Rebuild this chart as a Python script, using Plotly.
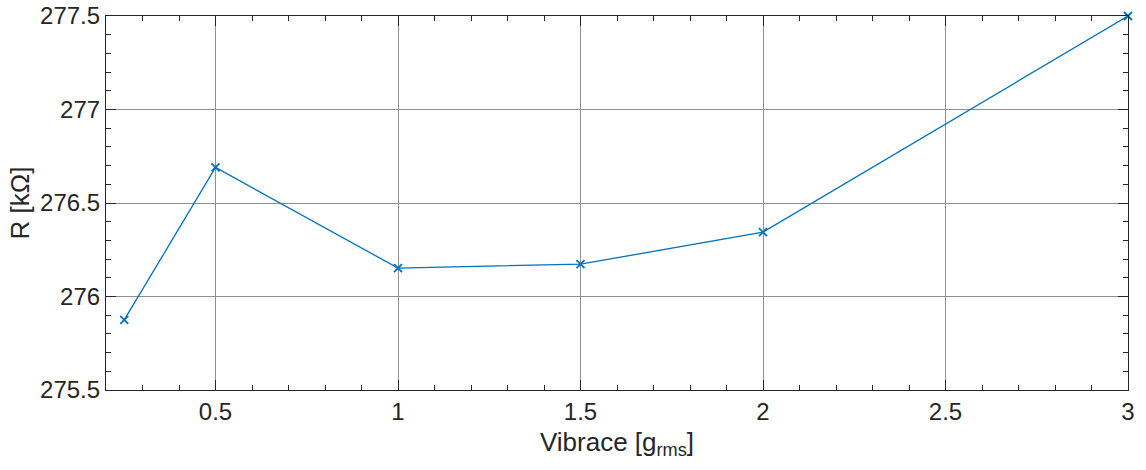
import plotly.graph_objects as go

vibrace = [0.25, 0.5, 1.0, 1.5, 2.0, 3.0]
resistance = [275.875, 276.69, 276.152, 276.173, 276.344, 277.5]
x_ticks = [0.5, 1, 1.5, 2, 2.5, 3]
x_tick_labels = ["0.5", "1", "1.5", "2", "2.5", "3"]
y_ticks = [275.5, 276, 276.5, 277, 277.5]
y_tick_labels = ["275.5", "276", "276.5", "277", "277.5"]

FONT = "Liberation Sans, Arial, Helvetica, sans-serif"

fig = go.Figure()
fig.add_trace(go.Scatter(
    x=vibrace, y=resistance, mode="lines+markers",
    line=dict(color="#0072BD", width=1.3),
    marker=dict(symbol="x-thin", size=8, color="#0072BD",
                line=dict(color="#0072BD", width=1.8)),
    cliponaxis=False,
    showlegend=False,
))

axis_common = dict(
    showline=True, linecolor="#262626", linewidth=1.2, mirror="allticks",
    ticks="inside", ticklen=10, tickcolor="#262626", tickwidth=1,
    showgrid=True, gridcolor="#8f8f8f", gridwidth=1,
    zeroline=False, automargin=False,
    tickfont=dict(family=FONT, size=24, color="#262626"),
    minor=dict(ticks="inside", ticklen=5, tickcolor="#262626", dtick=0.1, showgrid=False),
)

fig.update_xaxes(
    range=[0.2, 3.0], tickmode="array", tickvals=x_ticks, ticktext=x_tick_labels,
    title=dict(text="Vibrace [g<sub>rms</sub>]", standoff=8,
               font=dict(family=FONT, size=26, color="#262626")),
    **axis_common,
)
fig.update_yaxes(
    range=[275.5, 277.5], tickmode="array", tickvals=y_ticks, ticktext=y_tick_labels,
    title=dict(text="R [kΩ]", standoff=2,
               font=dict(family=FONT, size=26, color="#262626")),
    **axis_common,
)

fig.update_layout(
    width=1146, height=470,
    margin=dict(l=106, r=18, t=16, b=80),
    paper_bgcolor="white", plot_bgcolor="white",
)

fig.write_html("out.html")
